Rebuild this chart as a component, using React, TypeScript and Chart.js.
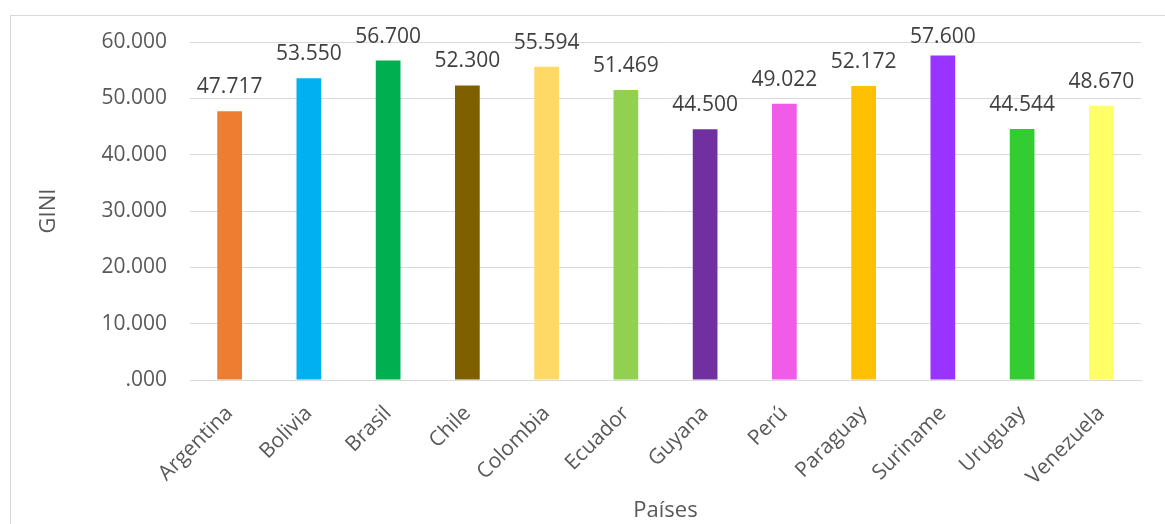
import React, { useEffect, useRef } from "react";
import { Chart, registerables } from "chart.js";

Chart.register(...registerables);

const countries = [
  "Argentina", "Bolivia", "Brasil", "Chile", "Colombia", "Ecuador",
  "Guyana", "Perú", "Paraguay", "Suriname", "Uruguay", "Venezuela",
];
const giniValues = [
  47.717, 53.55, 56.7, 52.3, 55.594, 51.469,
  44.5, 49.022, 52.172, 57.6, 44.544, 48.67,
];
const barColors = [
  "#ED7D31", "#00B0F0", "#00B050", "#7F6000", "#FFD966", "#92D050",
  "#7030A0", "#F05CE8", "#FFC000", "#9933FF", "#33CC33", "#FFFF66",
];
const yTickValues = [0, 10, 20, 30, 40, 50, 60];

const FONT = "'Open Sans', 'DejaVu Sans', sans-serif";

const formatValue = (v: number) => (v === 0 ? ".000" : v.toFixed(3));

// Draws the value above each bar, kept inside the top of the plot area.
const valueLabels = {
  id: "valueLabels",
  afterDatasetsDraw(chart: any) {
    const { ctx, chartArea } = chart;
    const meta = chart.getDatasetMeta(0);
    const data = chart.data.datasets[0].data as number[];
    ctx.save();
    ctx.font = `21px ${FONT}`;
    ctx.fillStyle = "#404040";
    ctx.textAlign = "center";
    ctx.textBaseline = "alphabetic";
    meta.data.forEach((bar: any, i: number) => {
      const y = Math.max(bar.y - 18, chartArea.top + 1);
      ctx.fillText(formatValue(data[i]), bar.x, y);
    });
    ctx.restore();
  },
};

export default function App() {
  const canvasRef = useRef<HTMLCanvasElement | null>(null);

  useEffect(() => {
    if (!canvasRef.current) return;
    const chart = new Chart(canvasRef.current, {
      type: "bar",
      data: {
        labels: countries,
        datasets: [
          {
            data: giniValues,
            backgroundColor: barColors,
            barPercentage: 0.312,
            categoryPercentage: 1,
          },
        ],
      },
      options: {
        animation: false,
        responsive: false,
        maintainAspectRatio: false,
        layout: { padding: { top: 42, right: 24, bottom: 0, left: 0 } },
        plugins: {
          legend: { display: false },
          tooltip: { enabled: false },
        },
        scales: {
          x: {
            grid: { display: false, drawTicks: false },
            border: { display: true, color: "#d9d9d9", width: 1 },
            ticks: {
              color: "#595959",
              font: { family: FONT, size: 21 },
              minRotation: 45,
              maxRotation: 45,
              padding: 21,
            },
            title: {
              display: true,
              text: "Países",
              color: "#595959",
              font: { family: FONT, size: 22 },
              padding: { top: 0, bottom: 0 },
            },
            afterFit(scale: any) {
              scale.height = 144;
            },
          },
          y: {
            min: 0,
            max: 60,
            grid: { color: "#d9d9d9", lineWidth: 1, drawTicks: false },
            border: { display: false },
            afterBuildTicks(scale: any) {
              scale.ticks = yTickValues.map((v) => ({ value: v }));
            },
            ticks: {
              color: "#595959",
              font: { family: FONT, size: 21 },
              padding: 23,
              callback: (v: any) => formatValue(Number(v)),
            },
            title: {
              display: true,
              text: "GINI",
              color: "#595959",
              font: { family: FONT, size: 22 },
              padding: { top: 36, bottom: 0 },
            },
            afterFit(scale: any) {
              scale.width = 190;
            },
          },
        },
      },
      plugins: [valueLabels],
    });
    return () => chart.destroy();
  }, []);

  return (
    <div
      style={{
        position: "absolute",
        left: 0,
        top: 0,
        width: 1165,
        height: 524,
        overflow: "hidden",
        background: "#ffffff",
      }}
    >
      <div
        style={{
          position: "absolute",
          left: 10,
          top: 15,
          width: 1200,
          height: 600,
          border: "1px solid #d9d9d9",
        }}
      />
      <canvas
        ref={canvasRef}
        width={1165}
        height={524}
        style={{ position: "absolute", left: 0, top: 0, display: "block" }}
      />
    </div>
  );
}
